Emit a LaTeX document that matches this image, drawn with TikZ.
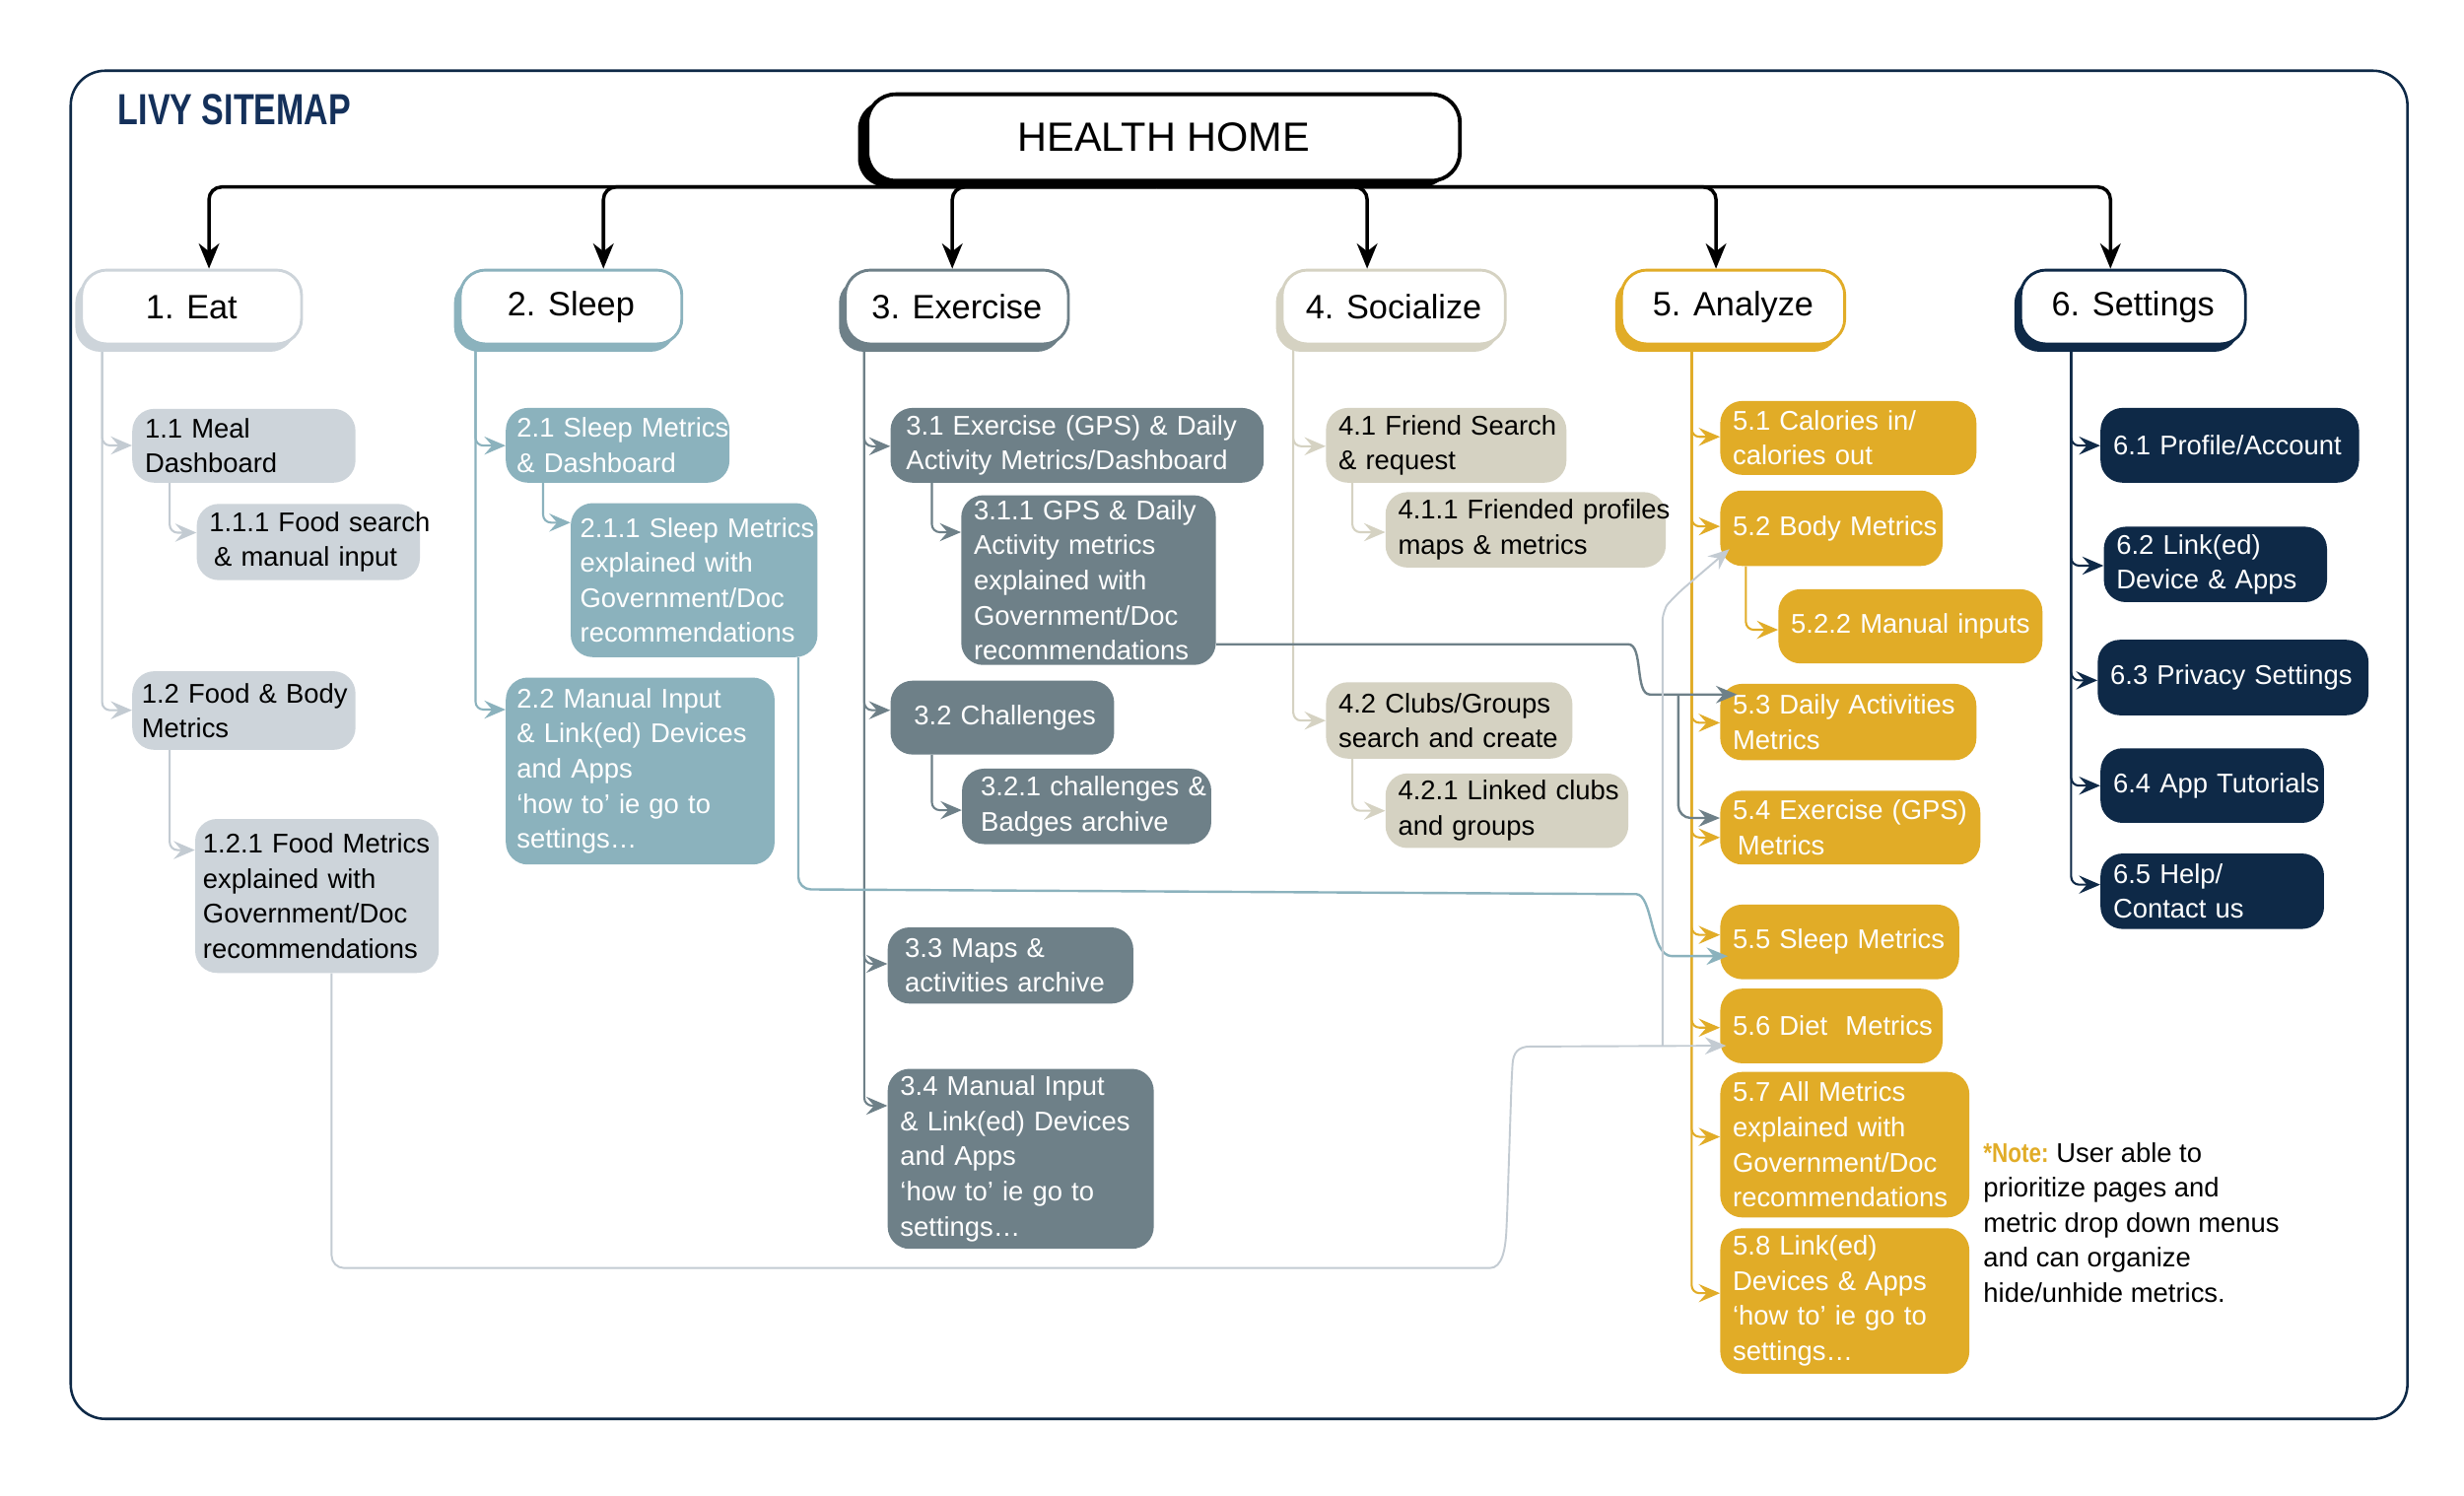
\documentclass[tikz,border=0pt]{standalone}
\usepackage{fontspec}
\setmainfont{Liberation Sans}
\usepackage{graphicx}
\usetikzlibrary{arrows.meta,shadows,calc}
\definecolor{eatC}{HTML}{CDD4DA}
\definecolor{eatL}{HTML}{C3CBD2}
\definecolor{slpC}{HTML}{8BB2BD}
\definecolor{exC}{HTML}{6E8088}
\definecolor{socC}{HTML}{D5D2C2}
\definecolor{anC}{HTML}{E1AC27}
\definecolor{setC}{HTML}{0E2947}
\definecolor{titleC}{HTML}{14305A}
\pgfdeclarelayer{background}
\pgfsetlayers{background,main}
\newcommand\leaffont{\fontsize{17.2}{22.3}\selectfont}
\newcommand\catfont{\fontsize{21.5}{26}\selectfont}
\newcommand\mline[1]{\mbox{#1}}
\newcommand\leafbox[8]{\pgfmathsetmacro\lftw{#5-2*#7}\node[leaf,#2,inner xsep=#7pt,text width=\lftw pt,minimum height=#6pt] (#1) at (#3,#4) {#8};}
\tikzset{
 leaf/.style={rounded corners=14pt,inner ysep=0pt,anchor=north west,align=left,font=\leaffont},
 eatbox/.style={fill=eatC,text=black},
 slpbox/.style={fill=slpC,text=white},
 exbox/.style={fill=exC,text=white},
 socbox/.style={fill=socC,text=black},
 anbox/.style={fill=anC,text=white},
 setbox/.style={fill=setC,text=white},
 cat/.style={draw=#1,line width=1.8pt,fill=white,rounded corners=16pt,minimum height=47pt,anchor=north west,font=\catfont,inner sep=0pt,drop shadow={shadow xshift=-4pt,shadow yshift=-5pt,fill=#1,opacity=1}},
 hhnode/.style={draw=black,line width=2.4pt,fill=white,rounded corners=18pt,minimum width=377pt,minimum height=55pt,font=\fontsize{26}{30}\selectfont,drop shadow={shadow xshift=-6pt,shadow yshift=-4pt,fill=black,opacity=1}},
 busline/.style={line width=2.2pt,rounded corners=8pt,-{Stealth[length=16pt,width=13pt,inset=5pt]}},
 kidline/.style={line width=1.3pt,rounded corners=5pt,draw=#1,-{Stealth[length=13.5pt,width=11.5pt,inset=5pt]}},
 longline/.style={line width=1.5pt,rounded corners=8pt,draw=#1,-{Stealth[length=13.5pt,width=11pt,inset=4.5pt]}},
 titlenode/.style={anchor=west,inner sep=0pt,text=titleC,font=\fontsize{27.7}{30}\selectfont\bfseries},
 notenode/.style={anchor=west,inner sep=0pt,align=left,font=\leaffont,text=black},
}
\begin{document}
\begin{tikzpicture}[x=1pt,y=-1pt]
\useasboundingbox (0,0) rectangle (1568,952);
\begin{pgfonlayer}{background}
\fill[white] (0,0) rectangle (1568,952);
\end{pgfonlayer}
\draw[draw=setC,line width=1.6pt,rounded corners=22pt] (45,45) rectangle (1532,903);
\node[titlenode] (title) at (75,70) {\scalebox{0.77}[1]{LIVY SITEMAP}};
\node[hhnode] (hh) at (740.5,87.5) {HEALTH HOME};
\coordinate (busc) at (736,119);
% categories
\node[cat=eatC,minimum width=140pt] (eat) at (51,171) {1. Eat};
\node[cat=slpC,minimum width=141pt] (slp) at (292,171) {2. Sleep};
\node[cat=exC,minimum width=142pt] (exr) at (537,171) {3. Exercise};
\node[cat=socC,minimum width=142pt] (soc) at (815,171) {4. Socialize};
\node[cat=anC,minimum width=142pt] (ana) at (1031,171) {5. Analyze};
\node[cat=setC,minimum width=143pt] (sett) at (1285,171) {6. Settings};
% eat
\leafbox{e11}{eatbox}{84}{260}{142}{47}{8}{\mline{1.1 Meal}\\\mline{Dashboard}}
\leafbox{e111}{eatbox}{125}{320.5}{142}{48.5}{8}{\mline{1.1.1 Food search}\\\mline{\hspace{3pt}\& manual input}}
\leafbox{e12}{eatbox}{84}{427}{142}{50}{6}{\mline{1.2 Food \& Body}\\\mline{Metrics}}
\leafbox{e121}{eatbox}{124}{521}{155}{98}{5}{\mline{1.2.1 Food Metrics}\\\mline{explained with}\\\mline{Government/Doc}\\\mline{recommendations}}
% sleep
\leafbox{s21}{slpbox}{321.7}{259.4}{142.3}{47.6}{7}{\mline{2.1 Sleep Metrics}\\\mline{\& Dashboard}}
\leafbox{s211}{slpbox}{363}{320}{157}{98}{6}{\mline{2.1.1 Sleep Metrics}\\\mline{explained with}\\\mline{Government/Doc}\\\mline{recommendations}}
\leafbox{s22}{slpbox}{321.7}{431}{171}{119}{7}{\mline{2.2 Manual Input}\\\mline{\& Link(ed) Devices}\\\mline{and Apps}\\\mline{‘how to’ ie go to}\\\mline{settings…}}
% exercise
\leafbox{x31}{exbox}{566.5}{259.4}{237.5}{47.6}{10}{\mline{3.1 Exercise (GPS) \& Daily}\\\mline{Activity Metrics/Dashboard}}
\leafbox{x311}{exbox}{611.5}{315}{162}{108}{8}{\mline{3.1.1 GPS \& Daily}\\\mline{Activity metrics}\\\mline{explained with}\\\mline{Government/Doc}\\\mline{recommendations}}
\leafbox{x32}{exbox}{566.5}{433}{142.3}{47}{15}{\mline{3.2 Challenges}}
\leafbox{x321}{exbox}{612}{489}{158.6}{48}{12}{\mline{3.2.1 challenges \&}\\\mline{Badges archive}}
\leafbox{x33}{exbox}{564.7}{590}{156.3}{48.5}{11}{\mline{3.3 Maps \&}\\\mline{activities archive}}
\leafbox{x34}{exbox}{564.7}{680}{169.3}{114.6}{8}{\mline{3.4 Manual Input}\\\mline{\& Link(ed) Devices}\\\mline{and Apps}\\\mline{‘how to’ ie go to}\\\mline{settings…}}
% socialize
\leafbox{o41}{socbox}{843.6}{259.4}{153}{47.6}{8}{\mline{4.1 Friend Search}\\\mline{\& request}}
\leafbox{o411}{socbox}{881.5}{313}{178.3}{48}{8}{\mline{4.1.1 Friended profiles}\\\mline{maps \& metrics}}
\leafbox{o42}{socbox}{843.6}{434}{156.8}{48.6}{8}{\mline{4.2 Clubs/Groups}\\\mline{search and create}}
\leafbox{o421}{socbox}{881.5}{492}{154.5}{47.5}{8}{\mline{4.2.1 Linked clubs}\\\mline{and groups}}
% analyze
\leafbox{a51}{anbox}{1094.5}{255}{163}{47}{8}{\mline{5.1 Calories in/}\\\mline{calories out}}
\leafbox{a52}{anbox}{1094.5}{312}{141.5}{48}{8}{\mline{5.2 Body Metrics}}
\leafbox{a522}{anbox}{1131.5}{374.8}{168}{47.2}{8}{\mline{5.2.2 Manual inputs}}
\leafbox{a53}{anbox}{1094.5}{435}{163}{48.6}{8}{\mline{5.3 Daily Activities}\\\mline{Metrics}}
\leafbox{a54}{anbox}{1094.5}{503}{165.5}{47}{8}{\mline{5.4 Exercise (GPS)}\\\mline{\hspace{3pt}Metrics}}
\leafbox{a55}{anbox}{1094.5}{575.5}{152}{47.5}{8}{\mline{5.5 Sleep Metrics}}
\leafbox{a56}{anbox}{1094.5}{629}{141.5}{47.5}{8}{\mline{5.6 Diet\ \ Metrics}}
\leafbox{a57}{anbox}{1094.5}{682}{158.5}{92.6}{8}{\mline{5.7 All Metrics}\\\mline{explained with}\\\mline{Government/Doc}\\\mline{recommendations}}
\leafbox{a58}{anbox}{1094.5}{781.5}{158.5}{92.5}{8}{\mline{5.8 Link(ed)}\\\mline{Devices \& Apps}\\\mline{‘how to’ ie go to}\\\mline{settings…}}
% settings
\leafbox{t61}{setbox}{1336.5}{259.4}{164.5}{47.6}{8}{\mline{6.1 Profile/Account}}
\leafbox{t62}{setbox}{1338.6}{335}{142}{48}{8}{\mline{6.2 Link(ed)}\\\mline{Device \& Apps}}
\leafbox{t63}{setbox}{1334.7}{407}{172.3}{48}{8}{\mline{6.3 Privacy Settings}}
\leafbox{t64}{setbox}{1336.5}{476}{142.2}{47.5}{8}{\mline{6.4 App Tutorials}}
\leafbox{t65}{setbox}{1336.5}{543}{142.2}{48}{8}{\mline{6.5 Help/}\\\mline{Contact us}}
% note
\node[notenode] (note) at (1262,778) {\textcolor{anC}{\scalebox{0.82}[1]{\bfseries *Note:}} User able to\\prioritize pages and\\metric drop down menus\\and can organize\\hide/unhide metrics.};
% bus arrows
\draw[busline] (busc) -| (eat.north -| 133,0);
\draw[busline] (busc) -| (slp.north -| 384,0);
\draw[busline] (busc) -| (exr.north -| 606,0);
\draw[busline] (busc) -| (soc.north -| 870,0);
\draw[busline] (busc) -| (ana.north -| 1092,0);
\draw[busline] (busc) -| (sett.north -| 1343,0);
% child connectors
\begin{pgfonlayer}{background}
\draw[kidline=eatL] (eat.south -| 65,0) |- (e11.west |- 0,283.5);
\draw[kidline=eatL] (eat.south -| 65,0) |- (e12.west |- 0,452);
\draw[kidline=eatL] (e11.south -| 108,0) |- (e111.west |- 0,339);
\draw[kidline=eatL] (e12.south -| 108,0) |- (e121.west |- 0,541);
\draw[kidline=slpC] (slp.south -| 302.6,0) |- (s21.west |- 0,283.6);
\draw[kidline=slpC] (slp.south -| 302.6,0) |- (s22.west |- 0,451.6);
\draw[kidline=slpC] (s21.south -| 345.6,0) |- (s211.west |- 0,332.6);
\draw[kidline=exC] (exr.south -| 550,0) |- (x31.west |- 0,284);
\draw[kidline=exC] (exr.south -| 550,0) |- (x32.west |- 0,452);
\draw[kidline=exC] (exr.south -| 550,0) |- (x33.west |- 0,613.4);
\draw[kidline=exC] (exr.south -| 550,0) |- (x34.west |- 0,703.7);
\draw[kidline=exC] (x31.south -| 593,0) |- (x311.west |- 0,338.7);
\draw[kidline=exC] (x32.south -| 593,0) |- (x321.west |- 0,515.6);
\draw[kidline=socC] (soc.south -| 823,0) |- (o41.west |- 0,284);
\draw[kidline=socC] (soc.south -| 823,0) |- (o42.west |- 0,458.6);
\draw[kidline=socC] (o41.south -| 860.6,0) |- (o411.west |- 0,338.7);
\draw[kidline=socC] (o42.south -| 860.6,0) |- (o421.west |- 0,516);
\draw[kidline=anC] (ana.south -| 1076.5,0) |- (a51.west |- 0,278);
\draw[kidline=anC] (ana.south -| 1076.5,0) |- (a52.west |- 0,335);
\draw[kidline=anC] (ana.south -| 1076.5,0) |- (a53.west |- 0,460);
\draw[kidline=anC] (ana.south -| 1076.5,0) |- (a54.west |- 0,533);
\draw[kidline=anC] (ana.south -| 1076.5,0) |- (a55.west |- 0,595);
\draw[kidline=anC] (ana.south -| 1076.5,0) |- (a56.west |- 0,654);
\draw[kidline=anC] (ana.south -| 1076.5,0) |- (a57.west |- 0,723.5);
\draw[kidline=anC] (ana.south -| 1076.5,0) |- (a58.west |- 0,823);
\draw[kidline=anC] (a52.south -| 1111,0) |- (a522.west |- 0,400.8);
\draw[kidline=setC] (sett.south -| 1318,0) |- (t61.west |- 0,283.6);
\draw[kidline=setC] (sett.south -| 1318,0) |- (t62.west |- 0,360);
\draw[kidline=setC] (sett.south -| 1318,0) |- (t63.west |- 0,433);
\draw[kidline=setC] (sett.south -| 1318,0) |- (t64.west |- 0,500);
\draw[kidline=setC] (sett.south -| 1318,0) |- (t65.west |- 0,563);
\end{pgfonlayer}
% long connectors
\draw[longline=exC] (x311.east |- 0,410) -- (1028,410) .. controls (1046,410) and (1040,442) .. (1058,442) -- ($(a53.west |- 0,442)+(11,0)$);
\coordinate (xj) at (1068,442);
\draw[longline=exC] (xj) |- (a54.west |- 0,520.6);
\draw[longline=slpC] (s211.south -| 508,0) -- (508,566) -- (1033,569) .. controls (1052,569) and (1050,608.5) .. (1072,608.5) -- ($(a55.west |- 0,608.5)+(5,0)$);
\draw[longline=eatL,line width=1.2pt] (e121.south -| 211,0) -- (211,807) -- (940,807) .. controls (956,807) and (958,795) .. (959,775) -- (962,685) .. controls (963,670) and (966,666) .. (982,666) -- ($(a56.west |- 0,665.5)+(4,0)$);
\coordinate (ej) at (1058,666);
\draw[longline=eatL,line width=1.2pt] (ej) -- (1058,402) .. controls (1058,392) and (1060,386) .. (1066,379) -- ($(a52.west |- 0,349.5)+(6,0)$);
\end{tikzpicture}
\end{document}
